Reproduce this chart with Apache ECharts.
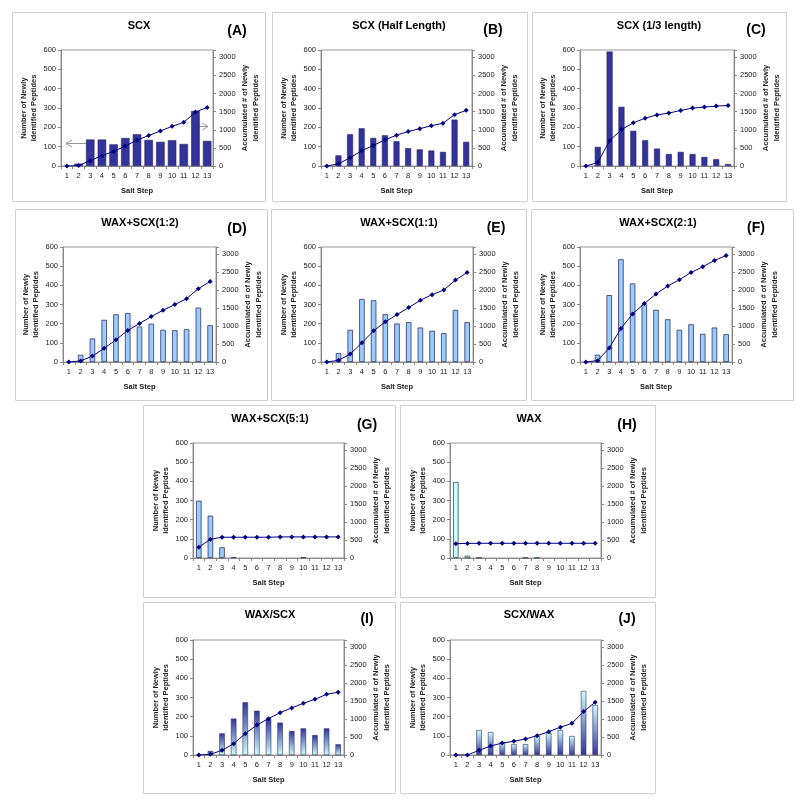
<!DOCTYPE html>
<html>
<head>
<meta charset="utf-8">
<script src="https://cdn.jsdelivr.net/npm/echarts@6/dist/echarts.min.js"></script>
<style>
html,body{margin:0;padding:0;background:#fff;}
#chart{width:800px;height:805px;}
</style>
</head>
<body>
<div id="chart"></div>
<script>
// ---- data ----
const saltSteps = ['1','2','3','4','5','6','7','8','9','10','11','12','13'];

const scxNew      = [0,12,137,137,112,145,164,135,125,133,114,284,130];
const scxAcc      = [0,12,148,286,402,550,712,840,965,1095,1205,1490,1615];
const scxHalfNew  = [0,55,164,195,145,159,128,92,86,80,73,240,125];
const scxHalfAcc  = [0,60,225,420,565,720,850,950,1030,1110,1180,1415,1535];
const scxThirdNew = [0,99,592,306,182,133,90,62,73,62,47,35,10];
const scxThirdAcc = [0,95,700,1005,1190,1320,1410,1460,1532,1597,1625,1652,1670];
const wax12New    = [0,38,123,220,249,256,185,200,168,166,171,284,192];
const wax12Acc    = [0,30,166,380,620,877,1071,1265,1440,1597,1763,2040,2243];
const wax11New    = [0,47,168,329,322,249,201,208,180,163,150,272,208];
const wax11Acc    = [0,46,222,535,868,1117,1320,1514,1717,1874,2003,2280,2492];
const wax21New    = [0,38,349,536,410,301,272,223,168,197,147,180,145];
const wax21Acc    = [0,37,388,932,1338,1625,1892,2114,2289,2492,2649,2825,2963];
const wax51New    = [299,221,56,5,0,0,0,0,0,5,0,0,0];
const wax51Acc    = [298,522,578,578,578,578,578,587,587,587,587,587,587];
const waxNew      = [397,12,2,0,0,0,2,2,0,0,0,0,0];
const waxAcc      = [400,405,410,410,410,410,410,410,410,410,410,410,410];
const waxScxNew   = [0,21,113,190,275,231,188,169,125,139,104,139,56];
const waxScxAcc   = [0,19,130,316,594,836,1012,1179,1309,1439,1550,1690,1746];
const scxWaxNew   = [0,0,130,120,66,57,57,99,115,130,99,334,261];
const scxWaxAcc   = [0,0,130,251,334,381,446,539,650,771,882,1207,1467];

const leftAxisMax = 600, leftAxisStep = 100;
const rightAxisMax = 3200, rightAxisStep = 500, rightAxisLastLabel = 3000;

const titles = ['SCX','SCX (Half Length)','SCX (1/3 length)','WAX+SCX(1:2)','WAX+SCX(1:1)','WAX+SCX(2:1)','WAX+SCX(5:1)','WAX','WAX/SCX','SCX/WAX'];
const tags = ['(A)','(B)','(C)','(D)','(E)','(F)','(G)','(H)','(I)','(J)'];
const newSeries = [scxNew,scxHalfNew,scxThirdNew,wax12New,wax11New,wax21New,wax51New,waxNew,waxScxNew,scxWaxNew];
const accSeries = [scxAcc,scxHalfAcc,scxThirdAcc,wax12Acc,wax11Acc,wax21Acc,wax51Acc,waxAcc,waxScxAcc,scxWaxAcc];

// ---- layout / styles ----
const FONT = 'Arial, "Liberation Sans", sans-serif';
const layout = [
  {grid:[61,50,152,116],  box:[12,12,253,189],  t:[139,26], g:[237,31], bw:8.5, st:'dark'},
  {grid:[321,50,151,116], box:[272,12,255,189], t:[399,26], g:[493,30], bw:6,   st:'dark'},
  {grid:[580,50,154,116], box:[532,12,254,189], t:[659,26], g:[756,30], bw:6,   st:'dark'},
  {grid:[63,247,153,115], box:[15,209,252,191], t:[140,223],g:[237,229],bw:5.5, st:'light'},
  {grid:[321,247,152,115],box:[271,209,255,191],t:[399,223],g:[496,228],bw:5.5, st:'light'},
  {grid:[580,247,152,115],box:[531,209,262,191],t:[658,223],g:[756,228],bw:5.5, st:'light'},
  {grid:[193,443,151,115],box:[143,405,252,192],t:[270,419],g:[367,425],bw:5.5, st:'light'},
  {grid:[450,443,151,115],box:[400,405,255,192],t:[529,419],g:[627,425],bw:5.5, st:'cyan'},
  {grid:[193,640,151,115],box:[143,602,252,191],t:[270,615],g:[367,619],bw:5.5, st:'gradDown'},
  {grid:[450,640,151,115],box:[400,602,255,191],t:[529,615],g:[627,619],bw:5.5, st:'gradUp'}
];

function barStyle(st){
  const dark='#333399', light='#CCFFFF';
  if(st==='dark') return {color:'#333399', borderColor:'#22226a', borderWidth:0.6};
  if(st==='light') return {color:'#99CCFF', borderColor:'#333366', borderWidth:0.8};
  if(st==='cyan') return {color:'#CCFFFF', borderColor:'#2f4f5f', borderWidth:0.8};
  if(st==='gradDown') return {color:new echarts.graphic.LinearGradient(0,0,0,1,[{offset:0,color:dark},{offset:1,color:light}]), borderColor:'#333366', borderWidth:0.6};
  return {color:new echarts.graphic.LinearGradient(0,0,0,1,[{offset:0,color:light},{offset:1,color:dark}]), borderColor:'#333366', borderWidth:0.6};
}

const grids=[], xAxes=[], yAxes=[], series=[], graphics=[];
const axisColor='#888', textColor='#222';
layout.forEach((L,i)=>{
  grids.push({left:L.grid[0], top:L.grid[1], width:L.grid[2], height:L.grid[3], show:true, borderColor:'#999', borderWidth:1, containLabel:false});
  xAxes.push({type:'category', gridIndex:i, data:saltSteps,
    axisLine:{lineStyle:{color:axisColor}}, axisTick:{show:true,length:3,lineStyle:{color:axisColor}},
    axisLabel:{interval:0, fontSize:7.5, color:textColor, margin:6, fontFamily:FONT},
    name:'Salt Step', nameLocation:'middle', nameGap:21,
    nameTextStyle:{fontSize:7.5, fontWeight:'bold', color:textColor, fontFamily:FONT}});
  yAxes.push({type:'value', gridIndex:i, position:'left', min:0, max:leftAxisMax, interval:leftAxisStep,
    axisLine:{show:true, lineStyle:{color:axisColor}}, axisTick:{show:true,length:3,lineStyle:{color:axisColor}},
    splitLine:{show:false},
    axisLabel:{fontSize:7.5, color:textColor, margin:5, fontFamily:FONT},
    name:'Number of Newly\nIdentified Peptides', nameLocation:'middle', nameGap:19,
    nameTextStyle:{fontSize:7.5, fontWeight:'bold', color:textColor, lineHeight:10.5, fontFamily:FONT}});
  yAxes.push({type:'value', gridIndex:i, position:'right', min:0, max:rightAxisMax, interval:rightAxisStep,
    axisLine:{show:true, lineStyle:{color:axisColor}}, axisTick:{show:true,length:3,lineStyle:{color:axisColor}},
    splitLine:{show:false},
    axisLabel:{fontSize:7.5, color:textColor, margin:6, fontFamily:FONT, formatter:v=> v>rightAxisLastLabel ? '' : String(v)},
    name:'Accumulated # of Newly\nIdentified Peptides', nameLocation:'middle', nameGap:26,
    nameTextStyle:{fontSize:7.5, fontWeight:'bold', color:textColor, lineHeight:11, fontFamily:FONT}});
  series.push({type:'bar', xAxisIndex:i, yAxisIndex:2*i, data:newSeries[i].map(v=> v===0 ? '-' : v), barWidth:L.bw, itemStyle:barStyle(L.st), z:2});
  series.push({type:'line', xAxisIndex:i, yAxisIndex:2*i+1, data:accSeries[i], symbol:'diamond', symbolSize:5,
    lineStyle:{color:'#000080', width:1}, itemStyle:{color:'#000080'}, z:5});
  graphics.push({type:'rect', shape:{x:L.box[0]+0.5, y:L.box[1]+0.5, width:L.box[2], height:L.box[3]},
    style:{fill:'none', stroke:'#d0d0d0', lineWidth:1}, z:-1});
  graphics.push({type:'text', x:L.t[0], y:L.t[1], style:{text:titles[i], fontSize:11, fontWeight:'bold', fontFamily:FONT, fill:'#000', align:'center', verticalAlign:'middle'}});
  graphics.push({type:'text', x:L.g[0], y:L.g[1], style:{text:tags[i], fontSize:14, fontWeight:'bold', fontFamily:FONT, fill:'#000', align:'center', verticalAlign:'middle'}});
});
// arrows in panel A (pointing to respective axes)
graphics.push({type:'polyline', shape:{points:[[87,143.5],[66,143.5]]}, style:{stroke:'#999', lineWidth:1, fill:'none'}});
graphics.push({type:'polyline', shape:{points:[[72,140],[66,143.5],[72,147]]}, style:{stroke:'#999', lineWidth:1, fill:'none'}});
graphics.push({type:'polyline', shape:{points:[[193,126.5],[208,126.5]]}, style:{stroke:'#999', lineWidth:1, fill:'none'}});
graphics.push({type:'polyline', shape:{points:[[202,123],[208,126.5],[202,130]]}, style:{stroke:'#999', lineWidth:1, fill:'none'}});

const chart = echarts.init(document.getElementById('chart'), null, {renderer:'canvas'});
chart.setOption({
  animation:false,
  backgroundColor:'#fff',
  textStyle:{fontFamily:FONT},
  grid:grids, xAxis:xAxes, yAxis:yAxes, series:series, graphic:graphics
});
</script>
</body>
</html>
